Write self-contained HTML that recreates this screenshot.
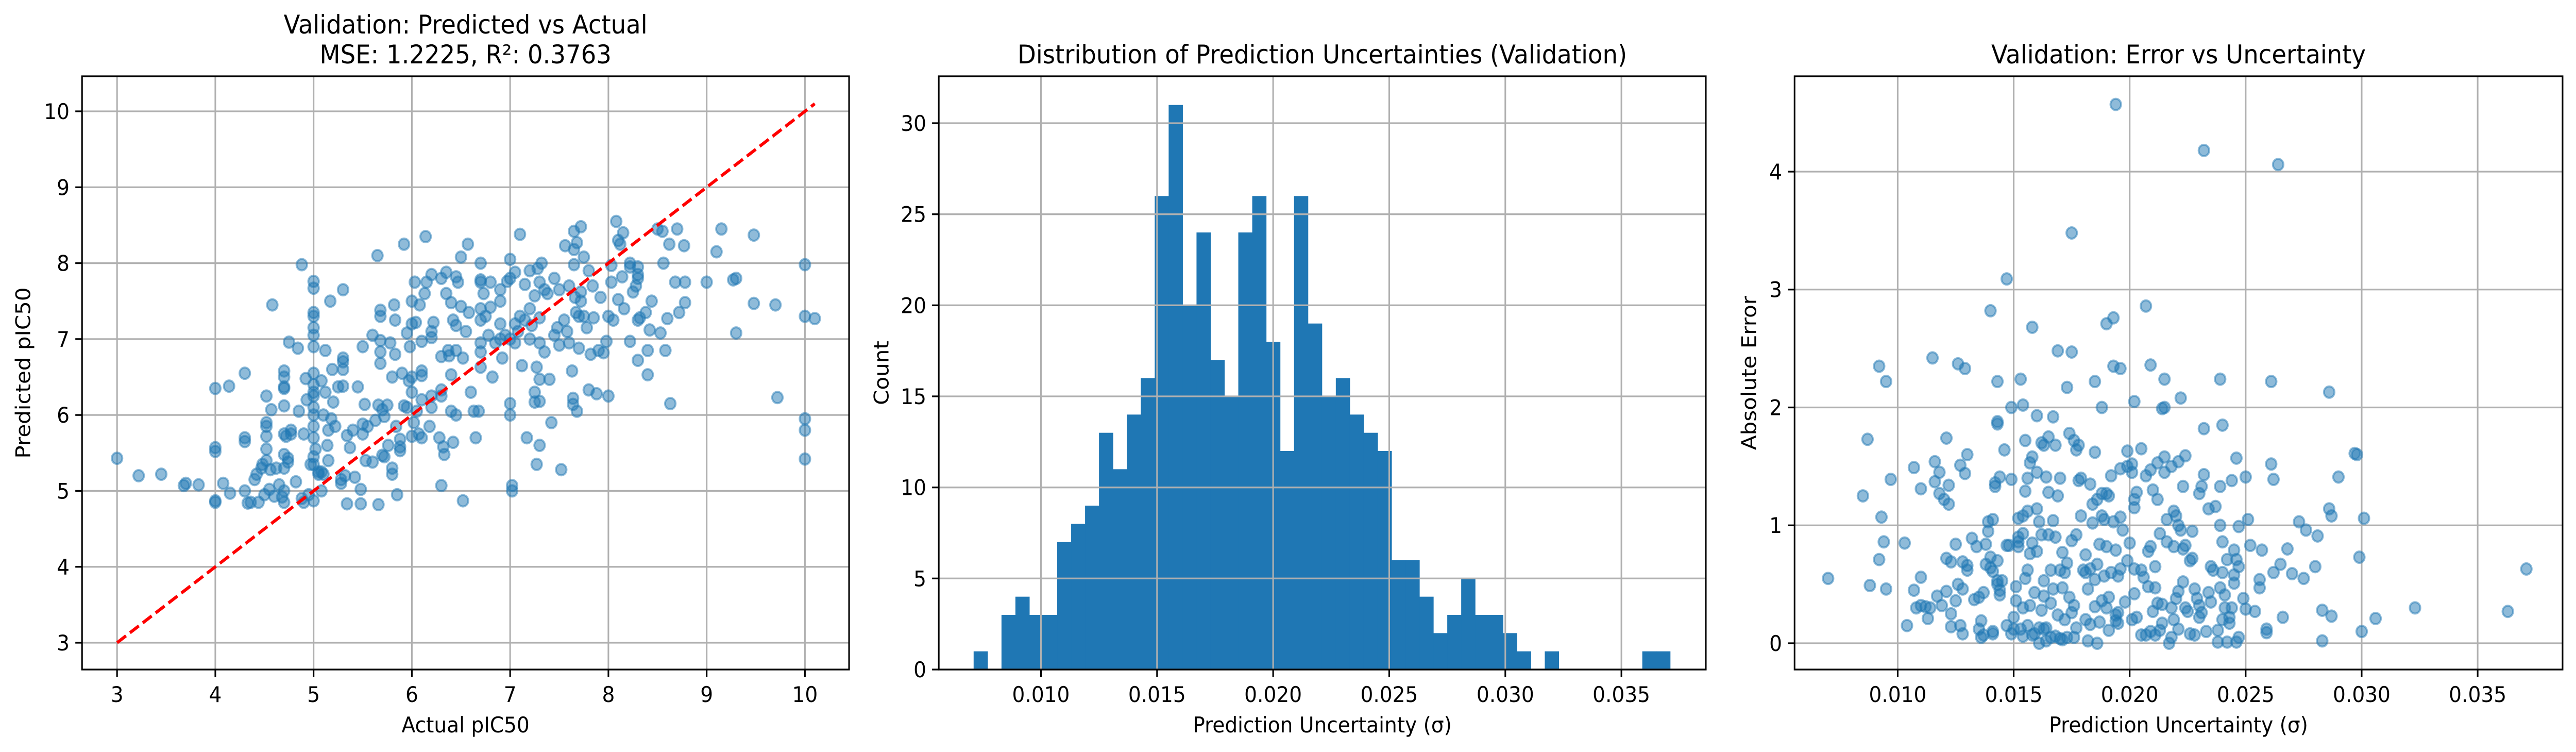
<!DOCTYPE html>
<html><head><meta charset="utf-8"><style>
html,body{margin:0;padding:0;background:#fff;width:100%;height:100%;overflow:hidden;}
svg{display:block;width:100vw;height:100vh;font-family:"DejaVu Sans","Liberation Sans",sans-serif;}
</style></head><body>
<svg id="fig" viewBox="0 0 5370 1459" preserveAspectRatio="none" xmlns="http://www.w3.org/2000/svg">
<rect width="5370" height="1459" fill="#fff"/>
<g id="p1"></g>
<g id="p2"></g>
<g id="p3"></g>
</svg>
<script>
// ---- Panel 1 data ----
const p1X = [3.0,3.22,3.45,3.68,3.7,3.83,4.0,4.0,4.0,4.0,4.0,4.08,4.14,4.15,4.3,4.3,4.3,4.3,4.33,4.36,4.4,4.42,4.44,4.47,4.48,4.5,4.52,4.52,4.52,4.52,4.52,4.52,4.55,4.56,4.57,4.58,4.6,4.62,4.65,4.68,4.7,4.7,4.7,4.7,4.7,4.7,4.7,4.7,4.7,4.7,4.72,4.74,4.74,4.75,4.77,4.77,4.82,4.84,4.85,4.88,4.88,4.9,4.9,4.92,4.93,4.95,4.97,
5,5,5,5,5,5,5,5,5,5,5,5,5,5,5,5,5,5,5.02,5.05,5.05,5.08,5.08,5.1,5.1,5.08,5.12,5.12,5.14,5.15,5.15,5.17,5.18,5.19,5.2,5.22,5.25,5.28,5.28,5.3,5.3,5.3,5.3,5.3,5.32,5.34,5.34,5.37,5.4,5.42,5.45,5.48,5.48,5.5,5.5,5.5,5.52,5.53,5.55,5.6,5.6,5.63,5.65,5.66,5.66,5.68,5.68,5.68,5.68,5.68,5.7,5.7,5.72,5.72,5.75,5.76,5.78,5.8,5.8,5.8,5.82,5.83,5.83,5.84,5.85,5.88,5.88,5.88,5.9,5.92,5.92,5.95,5.95,5.97,5.98,6.0,6.0,6.0,6.0,6.0,6.02,6.03,6.04,6.05,6.07,6.08,6.1,6.1,6.1,6.1,6.1,6.13,6.14,6.15,6.2,6.2,6.2,6.2,6.2,6.18,6.22,6.28,6.3,6.3,6.3,6.3,6.3,6.32,6.33,6.35,6.35,6.37,6.38,6.4,6.4,6.4,6.42,6.42,6.45,6.45,6.45,6.45,6.47,6.5,6.5,6.52,6.52,6.55,6.57,6.58,6.6,6.63,6.65,6.68,6.7,6.7,6.7,6.7,6.7,6.7,6.7,6.7,6.73,6.75,6.78,6.8,6.8,6.82,6.85,6.9,6.9,6.9,6.9,6.92,6.95,6.97,7.0,7.0,7.0,7.0,7.0,7.02,7.02,7.05,7.05,7.05,7.08,7.1,7.1,7.12,7.15,7.15,7.17,7.2,7.2,7.2,7.22,7.25,7.25,7.25,7.27,7.27,7.28,7.3,7.3,7.3,7.3,7.3,7.3,7.32,7.35,7.35,7.38,7.4,7.42,7.45,7.45,7.48,7.5,7.5,7.52,7.55,7.56,7.58,7.6,7.6,7.63,7.64,7.64,7.65,7.65,7.65,7.66,7.67,7.68,7.68,7.7,7.7,7.72,7.72,7.72,7.75,7.75,7.78,7.8,7.8,7.82,7.84,7.85,7.88,7.9,7.92,7.95,7.98,8.0,8.0,8.03,8.03,8.05,8.08,8.1,8.1,8.12,8.14,8.15,8.16,8.22,8.22,8.22,8.25,8.28,8.3,8.3,8.3,8.3,8.3,8.32,8.38,8.4,8.4,8.42,8.44,8.5,8.53,8.55,8.56,8.58,8.6,8.62,8.63,8.68,8.7,8.72,8.77,8.78,8.78,9.0,9.1,9.15,9.27,9.3,9.3,9.48,9.48,9.7,9.72,10,10,10,10,10,10.1];
const p1Y = [5.43,5.2,5.22,5.07,5.1,5.08,6.35,5.57,5.52,4.87,4.85,5.1,6.38,4.97,6.55,5.7,5.65,5.0,4.84,4.85,5.15,5.22,4.85,5.3,5.35,4.95,5.4,5.9,5.85,6.25,5.72,5.55,5.02,5.28,6.07,7.45,4.93,5.3,5.08,4.92,6.58,6.5,6.37,6.35,6.12,5.75,5.48,5.3,5.0,4.85,5.72,5.38,5.43,6.96,5.8,5.75,5.12,6.88,6.05,7.98,4.9,4.85,5.75,6.48,6.2,4.95,5.35,
7.76,7.67,7.35,7.3,7.15,7.05,6.9,6.55,6.4,6.3,6.25,6.1,6.0,5.85,5.7,5.45,5.35,4.87,5.55,5.25,5.22,5.25,5.0,5.22,6.0,6.45,6.3,6.85,5.6,5.8,5.4,7.5,5.95,6.6,6.17,5.85,6.37,5.15,5.1,7.65,6.75,6.7,6.6,6.38,5.2,4.83,5.73,5.57,5.8,5.18,6.37,5.02,4.83,5.75,6.9,5.88,6.14,5.4,5.85,7.05,5.38,5.93,8.1,6.13,4.82,7.38,7.3,6.98,6.83,6.68,6.07,5.47,5.98,5.45,6.13,5.6,6.95,6.5,5.3,5.22,7.45,7.25,6.8,5.85,4.95,5.53,5.58,5.68,6.55,8.25,6.12,7.08,6.1,6.45,6.9,7.5,7.2,6.5,6.3,5.72,5.9,7.75,7.22,6.05,5.75,7.45,6.97,6.58,6.52,6.2,5.7,7.6,8.35,7.75,7.1,7.02,6.25,6.1,7.85,5.85,7.22,5.7,7.8,6.77,6.33,6.25,5.07,5.58,5.48,7.6,7.88,6.85,6.78,7.48,6.53,6.05,7.25,5.64,7.82,7.18,6.85,6.0,7.75,8.08,7.43,6.75,4.87,7.1,8.25,7.35,6.3,6.05,5.7,6.05,8.0,7.78,7.75,7.4,7.25,6.95,6.83,6.63,7.6,7.3,7.05,7.75,7.42,6.5,6.95,7.65,7.5,7.2,7.0,6.75,7.05,7.76,8.05,7.8,7.0,6.15,6.0,5.07,5.0,7.88,7.2,6.95,7.1,8.38,7.3,6.65,7.72,7.25,5.7,7.9,7.4,7.0,7.18,7.57,6.3,6.17,5.35,6.63,7.93,7.75,7.28,6.95,6.47,6.18,5.6,8.0,7.65,6.83,7.6,6.47,5.9,7.8,7.05,7.15,7.65,6.92,5.28,7.25,8.23,7.1,7.7,6.95,6.58,6.22,6.14,8.42,8.18,7.98,7.55,7.35,8.27,6.05,7.3,6.88,8.48,7.62,7.5,8.08,7.3,7.15,7.9,6.33,6.8,7.7,7.28,6.28,6.85,7.55,6.82,6.97,7.3,6.25,7.97,7.75,7.25,8.55,8.3,7.52,8.25,7.82,8.4,7.4,8.0,7.95,6.97,7.62,7.7,7.95,7.85,7.8,7.25,6.72,7.28,7.35,6.85,6.53,7.12,7.5,8.45,7.08,8.42,8.0,6.85,7.27,8.25,6.15,7.75,8.45,7.35,8.23,7.75,7.48,7.75,8.15,8.45,7.78,7.8,7.08,8.37,7.47,7.45,6.23,7.98,7.3,5.95,5.8,5.42,7.27];
const p1XTicks = [3,4,5,6,7,8,9,10];
const p1YTicks = [3,4,5,6,7,8,9,10];
const p1Diag = [3.0, 10.1];

// ---- Panel 2 data ----
const histCounts = [1,0,3,4,3,3,7,8,9,13,11,14,16,26,31,20,24,17,15,24,26,18,12,26,19,15,16,14,13,12,6,6,4,2,3,5,3,3,2,1,0,1,0,0,0,0,0,0,1,1];
const histStart = 0.0071;
const histEnd = 0.0371;
const p2XTicks = ["0.010","0.015","0.020","0.025","0.030","0.035"];
const p2YTicks = [0,5,10,15,20,25,30];

// ---- Panel 3 data ----
const p3X = [0.0070,0.0085,0.0087,0.0088,0.0092,0.0092,0.0093,0.0094,0.0095,0.0095,0.0097,0.0103,0.0104,0.0107,0.0107,0.0108,0.0110,0.0110,0.0110,0.0112,0.0113,0.0114,0.0115,0.0116,0.0116,0.0117,0.0118,0.0118,0.0119,0.0120,0.0121,0.0121,0.0121,0.0122,0.0122,0.0123,0.0123,0.0123,0.0125,0.0125,0.0126,0.0126,0.0127,0.0127,0.0128,0.0128,0.0128,0.0129,0.0129,0.0130,0.0130,0.0130,0.0132,0.0133,0.0134,0.0135,0.0135,0.0136,0.0136,0.0137,0.0137,0.0138,0.0138,0.0139,0.0139,0.0140,0.0140,0.0140,0.0141,0.0141,0.0141,0.0141,0.0142,0.0142,0.0143,0.0143,0.0143,0.0143,0.0143,0.0143,0.0144,0.0144,0.0144,0.0145,0.0146,0.0147,0.0147,0.0147,0.0148,0.0149,0.0149,0.0149,0.0150,0.0150,0.0151,0.0151,0.0152,0.0152,0.0152,0.0152,0.0153,0.0153,0.0154,0.0154,0.0154,0.0154,0.0154,0.0155,0.0155,0.0155,0.0156,0.0156,0.0156,0.0156,0.0157,0.0157,0.0157,0.0158,0.0158,0.0158,0.0158,0.0159,0.0159,0.0160,0.0160,0.0160,0.0160,0.0161,0.0161,0.0161,0.0162,0.0162,0.0162,0.0163,0.0163,0.0163,0.0163,0.0164,0.0164,0.0164,0.0165,0.0165,0.0165,0.0166,0.0166,0.0166,0.0167,0.0167,0.0167,0.0168,0.0168,0.0168,0.0169,0.0169,0.0169,0.0170,0.0170,0.0170,0.0171,0.0171,0.0171,0.0172,0.0172,0.0173,0.0173,0.0173,0.0174,0.0174,0.0175,0.0175,0.0175,0.0175,0.0176,0.0176,0.0176,0.0177,0.0177,0.0177,0.0178,0.0178,0.0179,0.0179,0.0180,0.0181,0.0181,0.0181,0.0182,0.0182,0.0183,0.0183,0.0183,0.0184,0.0184,0.0185,0.0185,0.0185,0.0185,0.0186,0.0186,0.0186,0.0187,0.0187,0.0188,0.0188,0.0188,0.0188,0.0189,0.0189,0.0190,0.0190,0.0190,0.0190,0.0191,0.0191,0.0191,0.0192,0.0192,0.0193,0.0193,0.0193,0.0194,0.0194,0.0194,0.0194,0.0195,0.0195,0.0195,0.0196,0.0196,0.0196,0.0196,0.0197,0.0198,0.0199,0.0199,0.0199,0.0200,0.0201,0.0201,0.0201,0.0202,0.0202,0.0202,0.0202,0.0202,0.0203,0.0203,0.0205,0.0205,0.0205,0.0206,0.0207,0.0207,0.0207,0.0208,0.0208,0.0209,0.0209,0.0209,0.0209,0.0210,0.0210,0.0211,0.0211,0.0211,0.0212,0.0212,0.0212,0.0213,0.0213,0.0214,0.0214,0.0214,0.0215,0.0215,0.0215,0.0215,0.0216,0.0216,0.0217,0.0218,0.0218,0.0218,0.0219,0.0219,0.0219,0.0220,0.0220,0.0221,0.0221,0.0221,0.0221,0.0222,0.0222,0.0223,0.0223,0.0223,0.0224,0.0224,0.0224,0.0225,0.0226,0.0226,0.0227,0.0227,0.0228,0.0228,0.0229,0.0230,0.0230,0.0230,0.0231,0.0231,0.0232,0.0232,0.0232,0.0233,0.0234,0.0234,0.0235,0.0235,0.0236,0.0237,0.0238,0.0238,0.0239,0.0239,0.0239,0.0239,0.0240,0.0240,0.0240,0.0240,0.0241,0.0241,0.0242,0.0242,0.0243,0.0243,0.0244,0.0244,0.0245,0.0245,0.0245,0.0246,0.0246,0.0246,0.0247,0.0247,0.0247,0.0249,0.0250,0.0250,0.0251,0.0252,0.0254,0.0256,0.0256,0.0257,0.0259,0.0259,0.0261,0.0261,0.0262,0.0262,0.0264,0.0265,0.0266,0.0268,0.0270,0.0273,0.0275,0.0276,0.0280,0.0281,0.0283,0.0283,0.0286,0.0286,0.0287,0.0287,0.0290,0.0297,0.0298,0.0299,0.0300,0.0301,0.0306,0.0323,0.0363,0.0371];
const p3Y = [0.55,1.25,1.73,0.49,2.35,0.71,1.07,0.86,0.46,2.22,1.39,0.85,0.15,0.45,1.49,0.3,0.32,0.56,1.31,0.31,0.21,0.3,2.42,1.54,1.37,0.4,1.45,1.27,0.32,1.22,1.74,0.44,0.72,1.34,1.18,0.69,0.14,0.25,0.84,0.36,2.37,0.5,1.51,0.15,0.08,0.46,0.69,2.33,1.44,1.6,0.62,0.66,0.89,0.37,0.82,0.12,0.39,0.05,0.19,0.43,0.07,0.67,0.84,0.95,1.03,0.64,0.73,2.82,1.05,0.61,0.1,0.08,1.36,1.33,0.53,0.7,0.5,1.86,1.88,2.22,0.45,0.41,1.41,0.53,1.64,3.09,0.15,0.83,0.83,1.39,0.08,2.0,0.22,0.12,0.36,0.48,0.9,0.86,1.06,0.82,2.24,0.12,0.06,1.08,0.93,0.3,2.02,1.29,1.72,0.55,1.4,1.12,0.62,0.15,1.53,0.32,0.76,2.68,1.58,0.85,0.07,0.43,0.08,1.93,1.14,1.45,0.78,0.0,0.13,1.03,0.28,0.92,1.7,1.68,0.53,0.12,0.4,0.02,1.41,0.13,0.92,1.75,1.28,0.62,0.34,0.05,1.92,1.04,0.46,1.68,0.9,0.06,2.48,1.25,0.24,1.4,0.62,0.04,0.77,0.47,0.03,0.2,0.6,0.68,0.05,2.17,1.78,0.39,3.48,2.47,0.87,0.26,0.05,1.72,0.32,0.92,0.13,1.64,1.68,1.38,1.4,1.08,0.62,0.6,0.2,0.75,0.02,0.46,1.35,0.16,0.63,1.02,1.18,2.22,1.62,0.31,0.54,0.0,1.22,0.67,0.84,0.18,1.27,2.0,1.08,0.36,0.57,1.05,2.71,0.3,1.27,0.82,0.11,1.25,0.39,1.42,0.6,2.76,2.35,1.03,4.57,0.79,0.24,0.19,0.26,0.57,0.17,2.33,1.48,0.63,1.07,0.96,0.35,1.63,0.7,1.5,0.85,1.45,0.2,1.52,2.05,1.22,1.15,0.42,0.63,0.22,1.28,0.62,1.65,0.07,0.56,2.86,1.42,0.07,0.78,0.48,1.47,2.36,0.82,0.1,1.3,0.27,0.07,0.47,0.65,1.53,0.34,1.22,0.11,0.93,1.99,0.33,0.17,2.24,1.58,2.0,1.45,0.86,1.05,0.0,0.3,1.5,0.05,1.12,0.82,0.2,1.08,0.38,1.0,0.44,1.54,0.12,0.96,2.08,0.8,0.52,1.33,1.59,0.83,0.3,0.27,0.08,0.7,0.95,0.72,0.46,0.07,0.38,0.32,0.22,1.27,0.26,1.33,1.82,1.43,4.18,0.1,1.14,0.43,0.65,0.35,0.62,1.16,0.01,0.11,2.24,1.33,1.0,0.47,1.85,0.86,0.6,0.2,0.41,0.3,0.71,0.01,0.22,0.17,1.38,0.3,0.79,0.58,0.51,1.57,0.71,0.01,0.99,0.65,0.05,0.38,1.41,0.29,1.05,0.83,0.27,0.54,0.47,0.79,0.12,0.09,1.52,2.22,1.39,0.6,4.06,0.67,0.22,0.8,0.59,1.03,0.55,0.96,0.65,0.91,0.28,0.02,2.13,1.14,1.08,0.23,1.41,1.61,1.6,0.73,0.1,1.06,0.21,0.3,0.27,0.63];
const p3XTicks = ["0.010","0.015","0.020","0.025","0.030","0.035"];
const p3YTicks = [0,1,2,3,4];

const NS = "http://www.w3.org/2000/svg";
function mk(parent, tag, attrs, text){
  const e = document.createElementNS(NS, tag);
  for (const k in attrs) e.setAttribute(k, attrs[k]);
  if (text !== undefined) e.textContent = text;
  parent.appendChild(e);
  return e;
}
function lin(d0,d1,r0,r1){ return v => r0 + (v-d0)*(r1-r0)/(d1-d0); }
const GRID = "#b0b0b0", LW = 3.3, BLUE = "#1f77b4";

function axes(g, box, sx, sy, xt, yt){
  const grid = mk(g,'g',{});
  
  
  xt.forEach(t => { const x = sx(+t); mk(grid,'line',{x1:x,x2:x,y1:box.t,y2:box.b,stroke:GRID,'stroke-width':LW}); });
  yt.forEach(t => { const y = sy(+t); mk(grid,'line',{x1:box.l,x2:box.r,y1:y,y2:y,stroke:GRID,'stroke-width':LW}); });
  return grid;
}
function frame(g, box, sx, sy, xt, yt, xlab, ylab, ylabX, titles){
  mk(g,'rect',{x:box.l,y:box.t,width:box.r-box.l,height:box.b-box.t,fill:'none',stroke:'#000','stroke-width':LW});
  const xa = mk(g,'g',{});
  
  
  xt.forEach(t => {
    const x = sx(+t);
    mk(xa,'line',{x1:x,x2:x,y1:box.b,y2:box.b+14,stroke:'#000','stroke-width':LW});
    const lb = mk(xa,'text',{x:x,y:box.b+63,'font-size':42,'text-anchor':'middle',fill:'#000'}, String(t));
    
    
  });
  const ya = mk(g,'g',{});
  
  
  yt.forEach(t => {
    const y = sy(+t);
    mk(ya,'line',{x1:box.l-14,x2:box.l,y1:y,y2:y,stroke:'#000','stroke-width':LW});
    const lb = mk(ya,'text',{x:box.l-26,y:y+15,'font-size':42,'text-anchor':'end',fill:'#000'}, String(t));
    
    
  });
  const xl = mk(g,'text',{x:(box.l+box.r)/2,y:1421,'font-size':42,'text-anchor':'middle'}, xlab);
  
  
  const cy = (box.t+box.b)/2;
  const yl = mk(g,'text',{x:ylabX,y:cy+15,'font-size':42,'text-anchor':'middle',transform:`rotate(-90 ${ylabX} ${cy})`}, ylab);
  
  
  titles.forEach((tt,i) => {
    const te = mk(g,'text',{x:(box.l+box.r)/2,y:123-(titles.length-1-i)*58,'font-size':50,'text-anchor':'middle'}, tt);
    
    
  });
}
function scatter(g, xs, ys, sx, sy){
  const pts = mk(g,'g',{});
  
  
  for (let i=0;i<Math.min(xs.length,ys.length);i++){
    const c = mk(pts,'circle',{cx:sx(xs[i]),cy:sy(ys[i]),r:11,fill:BLUE,'fill-opacity':0.5,stroke:BLUE,'stroke-opacity':0.5,'stroke-width':4});
    
    
  }
}

// Panel 1
(function(){
  const g = document.getElementById('p1');
  const box = {l:171,r:1770,t:148,b:1299};
  const sx = lin(3,10,244,1678), sy = lin(3,10,1247,216);
  axes(g, box, sx, sy, p1XTicks, p1YTicks);
  scatter(g, p1X, p1Y, sx, sy);
  const d = mk(g,'line',{x1:sx(p1Diag[0]),y1:sy(p1Diag[0]),x2:sx(p1Diag[1]),y2:sy(p1Diag[1]),stroke:'#ff0000','stroke-width':6.25,'stroke-dasharray':'23 10'});
  
  
  frame(g, box, sx, sy, p1XTicks, p1YTicks, 'Actual pIC50', 'Predicted pIC50', 48, ['Validation: Predicted vs Actual','MSE: 1.2225, R\u00b2: 0.3763']);
})();

// Panel 2
(function(){
  const g = document.getElementById('p2');
  const box = {l:1957,r:3556,t:148,b:1299};
  const sx = lin(0.010,0.035,2170,3380), sy = lin(0,30,1299,239);
  const bars = mk(g,'g',{});
  
  
  const w = (histEnd-histStart)/histCounts.length;
  histCounts.forEach((c,i) => {
    if (c<=0) return;
    const x0 = sx(histStart+i*w), x1 = sx(histStart+(i+1)*w);
    const r = mk(bars,'rect',{x:x0,y:sy(c),width:x1-x0+0.6,height:sy(0)-sy(c),fill:BLUE});
    
    
  });
  axes(g, box, sx, sy, p2XTicks, p2YTicks);
  frame(g, box, sx, sy, p2XTicks, p2YTicks, 'Prediction Uncertainty (\u03c3)', 'Count', 1837, ['Distribution of Prediction Uncertainties (Validation)']);
})();

// Panel 3
(function(){
  const g = document.getElementById('p3');
  const box = {l:3741,r:5342,t:148,b:1299};
  const sx = lin(0.010,0.035,3956,5165), sy = lin(0,4,1248,333);
  axes(g, box, sx, sy, p3XTicks, p3YTicks);
  scatter(g, p3X, p3Y, sx, sy);
  frame(g, box, sx, sy, p3XTicks, p3YTicks, 'Prediction Uncertainty (\u03c3)', 'Absolute Error', 3646, ['Validation: Error vs Uncertainty']);
})();
</script>
</body></html>
